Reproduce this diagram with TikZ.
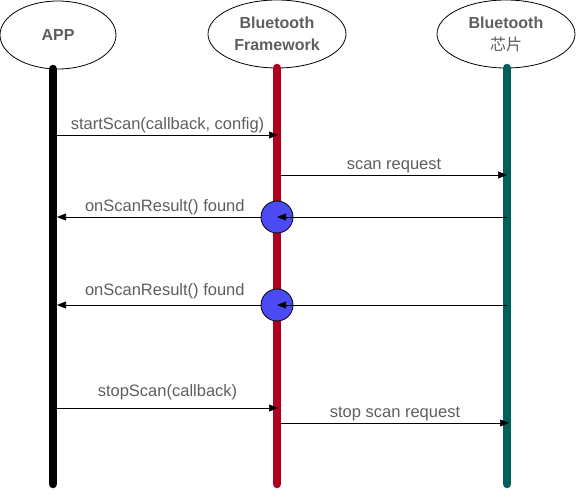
\documentclass[tikz,border=0pt]{standalone}
\usepackage{fontspec}
\setmainfont{Liberation Sans}
\newfontfamily\cjk{Noto Sans CJK SC}
\usetikzlibrary{arrows.meta,shapes.geometric}
\definecolor{txtgray}{HTML}{5E5E5E}
\definecolor{fwred}{HTML}{B0001E}
\definecolor{chipteal}{HTML}{005F5A}
\definecolor{hitblue}{HTML}{4B4BF5}
\begin{document}
\begin{tikzpicture}[x=1pt,y=-1pt,
    actor/.style={ellipse,draw,thick,fill=white,inner sep=0pt,minimum height=68pt,
      align=center,text=txtgray,font=\fontsize{16}{22}\selectfont\bfseries},
    life/.style={line width=8.5pt,line cap=round},
    msg/.style={-{Triangle[length=9pt,width=7pt]},semithick},
    lbl/.style={above,inner sep=2pt,text=txtgray,font=\fontsize{16.5}{18}\selectfont},
    hit/.style={circle,draw,thick,fill=hitblue,minimum size=32pt,inner sep=0pt}]

  \useasboundingbox (0,0) rectangle (576,500);

  % actors
  \node[actor,minimum width=116pt] (app) at (58,35) {APP};
  \node[actor,minimum width=138pt] (fw) at (277,34) {Bluetooth\\Framework};
  \node[actor,minimum width=138pt] (chip) at (506,34) {Bluetooth\\{\cjk\mdseries 芯片}};

  % lifelines
  \coordinate (app-top) at (53,69);  \coordinate (app-end) at (53,484);
  \coordinate (fw-top) at (277,68);  \coordinate (fw-end) at (277,484);
  \coordinate (chip-top) at (507,68); \coordinate (chip-end) at (507,484);
  \draw[life,black] (app-top) -- (app-end);
  \draw[life,fwred] (fw-top) -- (fw-end);
  \draw[life,chipteal] (chip-top) -- (chip-end);

  % start scan
  \coordinate (start-a) at (57,135);  \coordinate (start-f) at (278,135);
  \draw[msg] (start-a) -- node[lbl] {startScan(callback, config)} (start-f);
  \coordinate (req-f) at (281,175);   \coordinate (req-c) at (507,175);
  \draw[msg] (req-f) -- node[lbl] {scan request} (req-c);

  % scan results
  \node[hit] (hit1) at (277,217) {};
  \node[hit] (hit2) at (277,305) {};
  \coordinate (res1-c) at (507,217);  \coordinate (res1-a) at (57,217);
  \coordinate (res2-c) at (507,305);  \coordinate (res2-a) at (57,305);
  \draw[msg] (res1-c) -- (hit1.center);
  \draw[msg] (hit1.west) -- node[lbl,xshift=6pt] {onScanResult() found} (res1-a);
  \draw[msg] (res2-c) -- (hit2.center);
  \draw[msg] (hit2.west) -- node[lbl,xshift=6pt,yshift=4pt] {onScanResult() found} (res2-a);

  % stop scan
  \coordinate (stop-a) at (57,408);   \coordinate (stop-f) at (278,408);
  \draw[msg] (stop-a) -- node[lbl,yshift=6pt] {stopScan(callback)} (stop-f);
  \coordinate (sreq-f) at (281,423);  \coordinate (sreq-c) at (509,423);
  \draw[msg] (sreq-f) -- node[lbl] {stop scan request} (sreq-c);
\end{tikzpicture}
\end{document}
